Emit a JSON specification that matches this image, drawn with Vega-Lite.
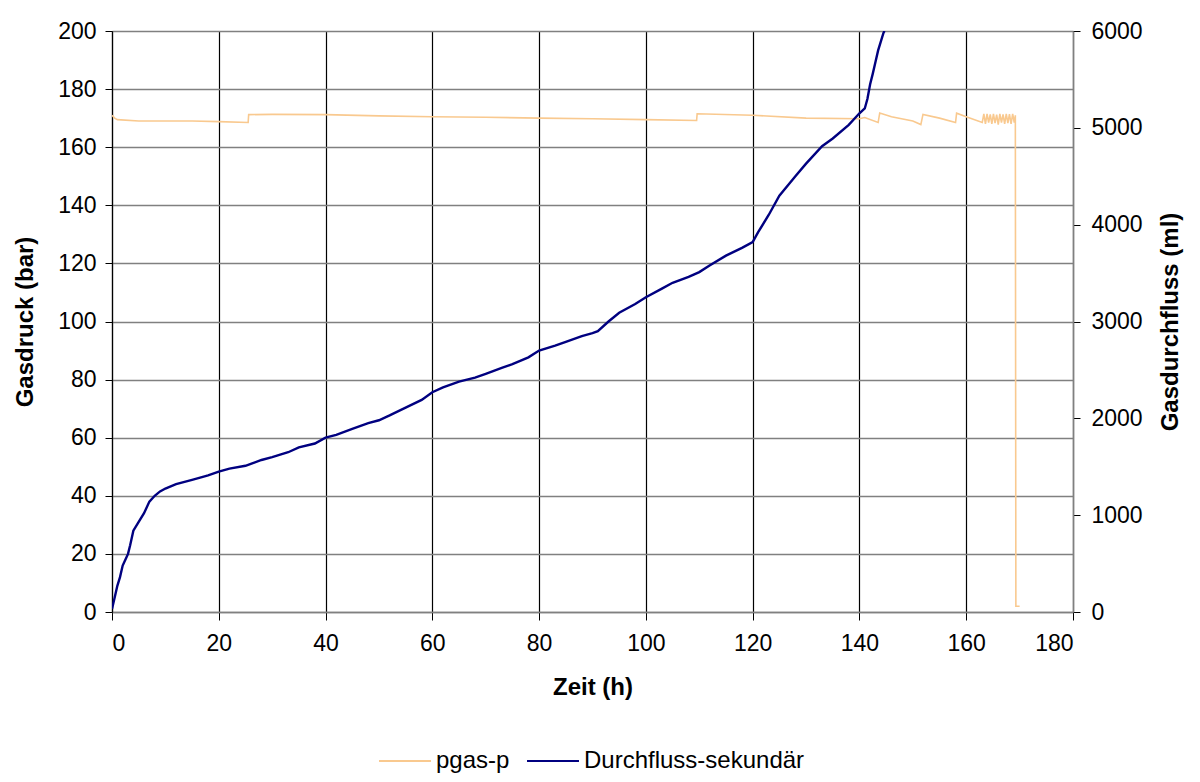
{
  "$schema": "https://vega.github.io/schema/vega-lite/v6.json",
  "width": 961,
  "height": 581,
  "autosize": {"type": "none"},
  "padding": {"left": 112, "top": 31, "right": 127, "bottom": 170},
  "background": "white",
  "config": {
    "view": {"stroke": null},
    "font": "Liberation Sans",
    "axis": {
      "labelFont": "Liberation Sans",
      "titleFont": "Liberation Sans",
      "labelFontSize": 23,
      "titleFontSize": 24,
      "titleFontWeight": "bold",
      "labelColor": "#000000",
      "titleColor": "#000000",
      "tickColor": "#000000",
      "tickSize": 7
    },
    "legend": {
      "labelFont": "Liberation Sans",
      "labelFontSize": 24,
      "labelColor": "#000000",
      "labelLimit": 400
    }
  },
  "datasets": {
    "druck": [
      {"t": 0, "p": 171}, {"t": 0.5, "p": 170}, {"t": 1, "p": 169.5}, {"t": 5, "p": 169}, {"t": 10, "p": 169},
      {"t": 15, "p": 169}, {"t": 20, "p": 168.8}, {"t": 25.5, "p": 168.5}, {"t": 25.6, "p": 171.2}, {"t": 30, "p": 171.3},
      {"t": 40, "p": 171.2}, {"t": 50, "p": 170.8}, {"t": 60, "p": 170.5}, {"t": 70, "p": 170.3}, {"t": 80, "p": 170},
      {"t": 90, "p": 169.8}, {"t": 100, "p": 169.5}, {"t": 109.5, "p": 169.2}, {"t": 109.6, "p": 171.5}, {"t": 120, "p": 171},
      {"t": 130, "p": 170}, {"t": 140, "p": 169.8}, {"t": 141, "p": 170.2}, {"t": 143.5, "p": 168.5}, {"t": 143.8, "p": 171.8},
      {"t": 146, "p": 170.5}, {"t": 150, "p": 169}, {"t": 151.5, "p": 167.8}, {"t": 151.9, "p": 171.3}, {"t": 155, "p": 170},
      {"t": 158, "p": 168.5}, {"t": 158.2, "p": 171.7}, {"t": 160, "p": 170.5}, {"t": 163, "p": 168.5}, {"t": 163.3, "p": 171.5},
      {"t": 163.6, "p": 168}, {"t": 163.9, "p": 171.5}, {"t": 164.2, "p": 168.5}, {"t": 164.5, "p": 171.3}, {"t": 164.8, "p": 168},
      {"t": 165.1, "p": 171.5}, {"t": 165.4, "p": 168.3}, {"t": 165.7, "p": 171.2}, {"t": 166, "p": 167.8}, {"t": 166.3, "p": 171.5},
      {"t": 166.6, "p": 168.5}, {"t": 166.9, "p": 171.3}, {"t": 167.2, "p": 168}, {"t": 167.5, "p": 171.5}, {"t": 167.8, "p": 168.3},
      {"t": 168.1, "p": 171.4}, {"t": 168.4, "p": 168}, {"t": 168.7, "p": 171.5}, {"t": 169, "p": 168.5}, {"t": 169.2, "p": 171},
      {"t": 169.3, "p": 2}, {"t": 170, "p": 2}
    ],
    "fluss": [
      {"t": 0, "v": 30}, {"t": 0.5, "v": 150}, {"t": 1, "v": 270}, {"t": 1.5, "v": 360}, {"t": 2, "v": 480},
      {"t": 2.5, "v": 540}, {"t": 3, "v": 600}, {"t": 3.4, "v": 690}, {"t": 4, "v": 840}, {"t": 5, "v": 930},
      {"t": 6, "v": 1020}, {"t": 7, "v": 1140}, {"t": 8, "v": 1200}, {"t": 9, "v": 1245}, {"t": 10, "v": 1275},
      {"t": 12, "v": 1320}, {"t": 15, "v": 1365}, {"t": 18, "v": 1410}, {"t": 20, "v": 1450}, {"t": 22, "v": 1480},
      {"t": 25, "v": 1510}, {"t": 26, "v": 1530}, {"t": 28, "v": 1570}, {"t": 30, "v": 1600}, {"t": 33, "v": 1650},
      {"t": 35, "v": 1700}, {"t": 38, "v": 1740}, {"t": 40, "v": 1800}, {"t": 42, "v": 1830}, {"t": 45, "v": 1890},
      {"t": 48, "v": 1950}, {"t": 50, "v": 1980}, {"t": 52, "v": 2030}, {"t": 55, "v": 2110}, {"t": 58, "v": 2190},
      {"t": 60, "v": 2270}, {"t": 62, "v": 2320}, {"t": 65, "v": 2380}, {"t": 68, "v": 2420}, {"t": 70, "v": 2460},
      {"t": 73, "v": 2520}, {"t": 75, "v": 2560}, {"t": 78, "v": 2630}, {"t": 80, "v": 2700}, {"t": 83, "v": 2750},
      {"t": 85, "v": 2790}, {"t": 88, "v": 2850}, {"t": 90, "v": 2880}, {"t": 91, "v": 2900}, {"t": 93, "v": 3000},
      {"t": 95, "v": 3090}, {"t": 98, "v": 3180}, {"t": 100, "v": 3250}, {"t": 103, "v": 3340}, {"t": 105, "v": 3400},
      {"t": 108, "v": 3460}, {"t": 110, "v": 3510}, {"t": 112, "v": 3580}, {"t": 115, "v": 3680}, {"t": 118, "v": 3760},
      {"t": 120, "v": 3820}, {"t": 121, "v": 3920}, {"t": 123, "v": 4100}, {"t": 125, "v": 4300}, {"t": 128, "v": 4500},
      {"t": 130, "v": 4630}, {"t": 133, "v": 4810}, {"t": 135, "v": 4890}, {"t": 138, "v": 5030}, {"t": 140, "v": 5150},
      {"t": 141, "v": 5200}, {"t": 141.5, "v": 5300}, {"t": 142, "v": 5450}, {"t": 142.5, "v": 5560}, {"t": 143, "v": 5680},
      {"t": 143.5, "v": 5800}, {"t": 144, "v": 5890}, {"t": 144.5, "v": 5980}, {"t": 144.7, "v": 6000}
    ]
  },
  "layer": [
    {
      "data": {"name": "druck"},
      "mark": {"type": "line", "strokeWidth": 1.6, "clip": true},
      "encoding": {
        "x": {
          "field": "t", "type": "quantitative",
          "scale": {"domain": [0, 180], "nice": false},
          "axis": {
            "title": "Zeit (h)",
            "values": [0, 20, 40, 60, 80, 100, 120, 140, 160, 180],
            "grid": true, "gridColor": "#000000", "gridWidth": 1.2,
            "domainColor": "#808080", "domainWidth": 1.5,
            "tickSize": 8, "labelPadding": 12, "titlePadding": 20
          }
        },
        "y": {
          "field": "p", "type": "quantitative",
          "scale": {"domain": [0, 200], "nice": false},
          "axis": {
            "title": "Gasdruck (bar)",
            "orient": "left",
            "values": [0, 20, 40, 60, 80, 100, 120, 140, 160, 180, 200],
            "grid": true, "gridColor": "#808080", "gridWidth": 1.5,
            "domainColor": "#000000", "domainWidth": 1.2,
            "labelPadding": 9,
            "titlePadding": 20
          }
        },
        "color": {
          "datum": "pgas-p",
          "type": "nominal",
          "scale": {"domain": ["pgas-p", "Durchfluss-sekundär"], "range": ["#F9C98F", "#000080"]},
          "legend": {
            "title": null,
            "orient": "none",
            "direction": "horizontal",
            "legendX": 266,
            "legendY": 703,
            "symbolType": "stroke",
            "symbolSize": 2700,
            "symbolStrokeWidth": 2,
            "labelOffset": 4,
            "columnPadding": 13
          }
        }
      }
    },
    {
      "data": {"name": "fluss"},
      "mark": {"type": "line", "strokeWidth": 2.4, "clip": true},
      "encoding": {
        "x": {"field": "t", "type": "quantitative"},
        "y": {
          "field": "v", "type": "quantitative",
          "scale": {"domain": [0, 6000], "nice": false},
          "axis": {
            "title": "Gasdurchfluss (ml)",
            "orient": "right",
            "format": "d",
            "values": [0, 1000, 2000, 3000, 4000, 5000, 6000],
            "grid": false,
            "domainColor": "#808080", "domainWidth": 1.5,
            "labelPadding": 11,
            "titleAngle": 270,
            "titlePadding": 40
          }
        },
        "color": {"datum": "Durchfluss-sekundär", "type": "nominal"}
      }
    }
  ],
  "resolve": {"scale": {"y": "independent"}}
}
